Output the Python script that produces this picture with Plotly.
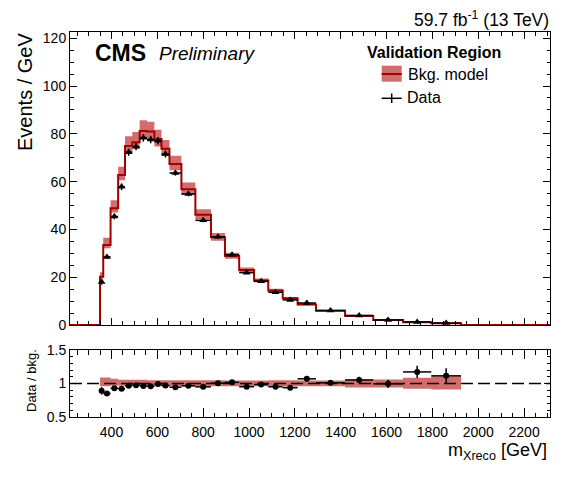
import plotly.graph_objects as go

# bin edges of m_Xreco [GeV] (variable width)
edges = [350, 364, 396, 429, 459, 491, 523, 555, 587, 618, 653, 705, 766, 834,
         895, 957, 1022, 1084, 1147, 1212, 1292, 1419, 1542, 1672, 1795, 1925]

# background model, events / GeV
bkg = [20.2, 33.5, 48.8, 62.8, 74.9, 76.5, 81.2, 81.0, 77.8, 73.7, 67.4, 56.8, 46.1,
       36.7, 28.9, 23.0, 18.6, 14.4, 11.2, 8.6, 6.0, 3.8, 2.1, 1.1, 0.7]
# relative band of the bkg model (up / down)
band_up = [0.09, 0.09, 0.07, 0.055, 0.055, 0.055, 0.055, 0.05, 0.05, 0.05, 0.05, 0.05, 0.05,
           0.05, 0.045, 0.045, 0.045, 0.05, 0.05, 0.045, 0.045, 0.06, 0.06, 0.085, 0.11]
band_dn = [0.04, 0.04, 0.035, 0.035, 0.035, 0.035, 0.04, 0.04, 0.04, 0.04, 0.04, 0.04, 0.04,
           0.04, 0.04, 0.04, 0.04, 0.045, 0.045, 0.04, 0.04, 0.06, 0.06, 0.08, 0.09]

# observed data, events / GeV, with stat. errors
data = [18.0, 28.5, 45.4, 57.8, 72.3, 74.6, 78.3, 77.6, 77.1, 71.5, 63.6, 54.8, 43.8,
        36.9, 29.4, 21.9, 18.3, 13.7, 10.5, 9.2, 6.06, 4.0, 2.09, 1.29, 0.78]
data_err = [1.13, 0.94, 1.17, 1.39, 1.50, 1.53, 1.56, 1.56, 1.58, 1.43, 1.11, 0.95, 0.80,
            0.78, 0.69, 0.58, 0.54, 0.47, 0.40, 0.34, 0.22, 0.18, 0.13, 0.10, 0.08]

x_range = [219, 2313]
y_range = [0, 122.6]
r_range = [0.5, 1.5]

band_col = "rgba(190,40,40,0.68)"
line_col = "#a00000"
font = "Liberation Sans"

lo = edges[:-1]
hi = edges[1:]
centers = [(a + b) / 2 for a, b in zip(lo, hi)]
half = [(b - a) / 2 for a, b in zip(lo, hi)]
ratio = [d / b for d, b in zip(data, bkg)]
ratio_err = [e / b for e, b in zip(data_err, bkg)]


def band_polygon(up, dn):
    xs, ys = [], []
    for a, b, u in zip(lo, hi, up):
        xs += [a, b]
        ys += [u, u]
    for a, b, d in reversed(list(zip(lo, hi, dn))):
        xs += [b, a]
        ys += [d, d]
    return xs, ys


fig = go.Figure()

# main panel
bx, by = band_polygon([b * (1 + u) for b, u in zip(bkg, band_up)],
                      [b * (1 - d) for b, d in zip(bkg, band_dn)])
fig.add_trace(go.Scatter(x=bx, y=by, fill="toself", fillcolor=band_col, mode="none",
                         xaxis="x", yaxis="y", hoverinfo="skip"))
fig.add_trace(go.Scatter(x=[x_range[0]] + edges + [x_range[1]], y=[0] + bkg + [0, 0],
                         mode="lines", line=dict(color=line_col, width=2, shape="hv"),
                         xaxis="x", yaxis="y"))
fig.add_trace(go.Scatter(x=centers, y=data, mode="markers",
                         marker=dict(symbol="triangle-up", size=7, color="black"),
                         error_x=dict(type="data", array=half, width=0, thickness=1.5, color="black"),
                         error_y=dict(type="data", array=data_err, width=0, thickness=1.5, color="black"),
                         xaxis="x", yaxis="y"))

# ratio panel
rx, ry = band_polygon([1 + u for u in band_up], [1 - d for d in band_dn])
fig.add_trace(go.Scatter(x=rx, y=ry, fill="toself", fillcolor=band_col, mode="none",
                         xaxis="x2", yaxis="y2", hoverinfo="skip"))
fig.add_trace(go.Scatter(x=x_range, y=[1, 1], mode="lines",
                         line=dict(color="black", width=1.5, dash="12px,5px"),
                         xaxis="x2", yaxis="y2"))
fig.add_trace(go.Scatter(x=centers, y=ratio, mode="markers",
                         marker=dict(symbol="circle", size=6, color="black"),
                         error_x=dict(type="data", array=half, width=0, thickness=1.5, color="black"),
                         error_y=dict(type="data", array=ratio_err, width=0, thickness=1.5, color="black"),
                         xaxis="x2", yaxis="y2"))

axis_common = dict(showline=True, linecolor="black", linewidth=1, mirror="allticks",
                   ticks="inside", tickcolor="black", showgrid=False, zeroline=False,
                   tickfont=dict(size=14, color="black", family=font))

# page has an 8px body margin, so the figure is 8px smaller and margins shifted
fig.update_layout(
    width=572, height=482,
    margin=dict(l=62, r=30, t=24, b=73),
    paper_bgcolor="white", plot_bgcolor="white",
    showlegend=False,
    font=dict(family=font, color="black"),
    xaxis=dict(axis_common, domain=[0, 1], range=x_range, anchor="y", matches="x2",
               showticklabels=False, dtick=200, tick0=0, ticklen=7,
               minor=dict(ticks="inside", dtick=50, tick0=0, ticklen=3.5, tickcolor="black")),
    yaxis=dict(axis_common, domain=[0.239, 1], range=y_range, anchor="x",
               dtick=20, tick0=0, ticklen=7, ticklabelstandoff=0,
               minor=dict(ticks="inside", dtick=5, ticklen=3.5, tickcolor="black")),
    xaxis2=dict(axis_common, domain=[0, 1], range=x_range, anchor="y2",
                dtick=200, tick0=0, ticklen=9, ticklabelstandoff=2,
                minor=dict(ticks="inside", dtick=50, tick0=0, ticklen=4.5, tickcolor="black")),
    yaxis2=dict(axis_common, domain=[0, 0.174], range=r_range, anchor="x2",
                tickvals=[0.5, 1, 1.5], ticktext=["0.5", "1", "1.5"], ticklen=6, ticklabelstandoff=0,
                minor=dict(ticks="inside", dtick=0.1, tick0=0.5, ticklen=3, tickcolor="black")),
)


def px(xp, yp):
    # window pixel -> paper fraction (plot area 70..550 x 32..417 in the window)
    return (xp - 70) / 480, (417 - yp) / 385


annos = []
x0, y0 = px(92.7, 53.3)
annos.append(dict(x=x0, y=y0, text="<b>CMS</b>", font=dict(size=23), xanchor="left", yanchor="middle"))
x0, y0 = px(157, 53.8)
annos.append(dict(x=x0, y=y0, text="<i>Preliminary</i>", font=dict(size=19), xanchor="left", yanchor="middle"))
x0, y0 = px(551, 18.5)
annos.append(dict(x=x0, y=y0, text="59.7 fb<sup>-1</sup> (13 TeV)", font=dict(size=17.5),
                  xanchor="right", yanchor="middle"))
x0, y0 = px(25, 31)
annos.append(dict(x=x0, y=y0, text="Events / GeV", font=dict(size=20), textangle=-90,
                  xanchor="center", yanchor="top"))
x0, y0 = px(31, 381)
annos.append(dict(x=x0, y=y0, text="Data / bkg.", font=dict(size=13), textangle=-90,
                  xanchor="center", yanchor="middle"))
x0, y0 = px(549, 451)
annos.append(dict(x=x0, y=y0, text="m<sub>Xreco</sub> [GeV]", font=dict(size=18),
                  xanchor="right", yanchor="middle"))
x0, y0 = px(365, 52.7)
annos.append(dict(x=x0, y=y0, text="<b>Validation Region</b>", font=dict(size=16),
                  xanchor="left", yanchor="middle"))
x0, y0 = px(406, 74)
annos.append(dict(x=x0, y=y0, text="Bkg. model", font=dict(size=16), xanchor="left", yanchor="middle"))
x0, y0 = px(405, 98)
annos.append(dict(x=x0, y=y0, text="Data", font=dict(size=16), xanchor="left", yanchor="middle"))
for a in annos:
    a.update(xref="paper", yref="paper", showarrow=False)
fig.update_layout(annotations=annos)

# legend glyphs
gx0, gy0 = px(381.7, 65.7)
gx1, gy1 = px(401.7, 81.7)
_, gl = px(0, 74)
_, dl = px(0, 98.3)
cx, dy0 = px(391.7, 93.5)
_, dy1 = px(0, 103)
shapes = [
    dict(type="rect", x0=gx0, x1=gx1, y0=gy1, y1=gy0, fillcolor=band_col, line=dict(width=0)),
    dict(type="line", x0=gx0, x1=gx1, y0=gl, y1=gl, line=dict(color=line_col, width=2)),
    dict(type="line", x0=gx0, x1=gx1, y0=dl, y1=dl, line=dict(color="black", width=1.5)),
    dict(type="line", x0=cx, x1=cx, y0=dy0, y1=dy1, line=dict(color="black", width=1.5)),
]
for s in shapes:
    s.update(xref="paper", yref="paper")
fig.update_layout(shapes=shapes)

fig.write_html("out.html")
